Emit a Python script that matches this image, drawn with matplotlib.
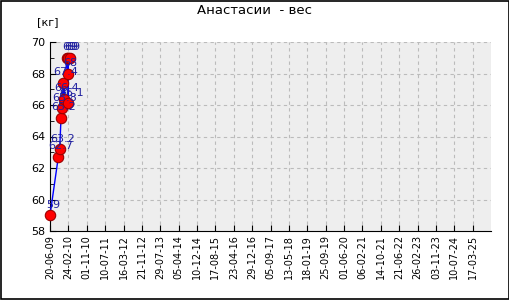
import numpy as np
import matplotlib.pyplot as plt
import matplotlib.dates as mdates
from matplotlib.patches import Rectangle
from datetime import datetime

# weigh-ins
dates = ["2009-06-20", "2009-10-11", "2009-10-30", "2009-11-17", "2009-11-27",
         "2009-12-18", "2009-12-28", "2010-02-03", "2010-02-20", "2010-02-25",
         "2010-02-24", "2010-03-24"]
weights = [59.0, 62.7, 63.2, 65.2, 65.8, 67.4, 66.4, 69.0, 68.0, 66.1, 69.0, 69.0]

tick_labels = ["20-06-09", "24-02-10", "01-11-10", "10-07-11", "16-03-12", "21-11-12",
               "29-07-13", "05-04-14", "10-12-14", "17-08-15", "23-04-16", "29-12-16",
               "05-09-17", "13-05-18", "18-01-19", "25-09-19", "01-06-20", "06-02-21",
               "14-10-21", "21-06-22", "26-02-23", "03-11-23", "10-07-24", "17-03-25"]

x = mdates.date2num([datetime.strptime(d, "%Y-%m-%d") for d in dates])
start = mdates.date2num(datetime(2009, 6, 20))
end = mdates.date2num(datetime(2025, 3, 17))
step = (end - start) / (len(tick_labels) - 1)
ticks = start + step * np.arange(len(tick_labels))

fig = plt.figure(figsize=(5.1, 3.0), dpi=100)
fig.patches.append(Rectangle((0.001, 0.002), 0.997, 0.995, transform=fig.transFigure,
                             fill=False, edgecolor='black', linewidth=1.2))
ax = fig.add_axes([50 / 510, 69 / 300, 441 / 510, 189 / 300])
ax.set_facecolor('#eeeeee')

ax.plot(x, weights, color='#0000ff', linewidth=1, zorder=3)
ax.plot(x, weights, linestyle='none', marker='o', markersize=7.5, clip_on=False,
        markerfacecolor='#ff0000', markeredgecolor='#990000', markeredgewidth=0.8, zorder=4)
for xi, w in zip(x, weights):
    ax.annotate(f"{w:g}", (xi, w), xytext=(2, 4), textcoords='offset points',
                ha='center', va='bottom', fontsize=8, color='#1f1f9f', zorder=5)

ax.set_xlim(start, start + step * len(tick_labels))
ax.set_ylim(58, 70)
ax.set_xticks(ticks)
ax.set_xticklabels(tick_labels, rotation=90, fontsize=7)
ax.set_yticks(np.arange(58, 71, 2))
ax.set_yticks(np.arange(59, 70, 2), minor=True)
ax.tick_params(axis='y', labelsize=8, direction='in', length=4)
ax.tick_params(axis='y', which='minor', direction='in', length=3)
ax.tick_params(axis='x', direction='in', length=4, pad=3)
ax.grid(True, color='#bbbbbb', linestyle=(0, (3, 3)), linewidth=0.8)
ax.set_axisbelow(True)
for s in ['top', 'right']:
    ax.spines[s].set_visible(False)

fig.text(0.5, 1 - 10 / 300, "Анастасии  - вес", ha='center', va='center', fontsize=9.5)
fig.text(37 / 510, 1 - 22 / 300, "[кг]", ha='left', va='center', fontsize=8)

fig.savefig("out.png", dpi=100)
